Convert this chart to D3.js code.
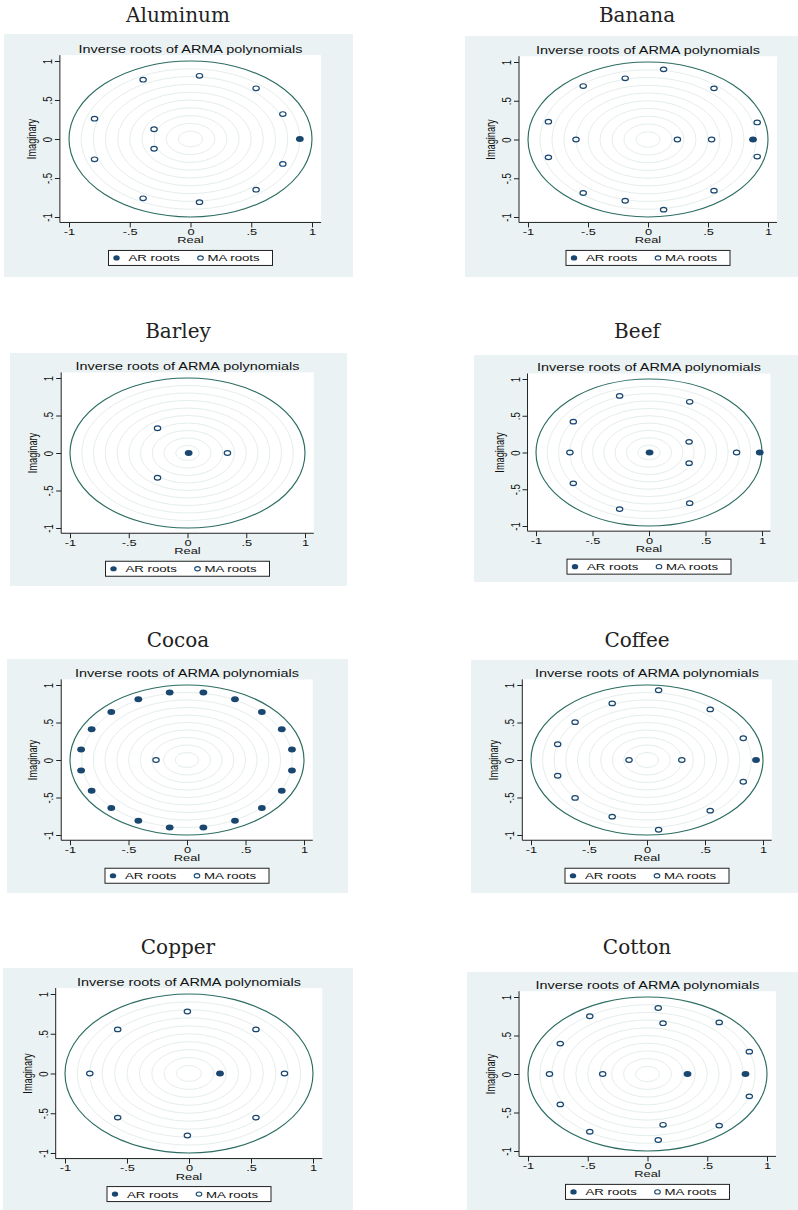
<!DOCTYPE html>
<html>
<head>
<meta charset="utf-8">
<script src="https://cdn.jsdelivr.net/npm/d3@7"></script>
<style>
  body { margin: 0; background: #fff; }
  text { font-family: "Liberation Sans", Arial, sans-serif; fill: #111; }
  .ptitle { font-family: "DejaVu Serif", "Liberation Serif", serif; fill: #222; }
</style>
</head>
<body>
<svg id="chart" width="798" height="1210"></svg>
<script>
// commodity names, one panel each
const commodities = ['Aluminum', 'Banana', 'Barley', 'Beef', 'Cocoa', 'Coffee', 'Copper', 'Cotton'];

// inverse roots, [real, imaginary]
const aluminumAR = [[0.90, 0]];
const aluminumMA = [[0.074, 0.81], [0.074, -0.81], [-0.39, 0.76], [-0.39, -0.76], [0.54, 0.65], [0.54, -0.65],
                    [0.76, 0.32], [0.76, -0.32], [-0.79, 0.26], [-0.79, -0.26], [-0.30, 0.125], [-0.30, -0.125]];

const bananaAR = [[0.875, 0]];
const bananaMA = [[0.13, 0.905], [0.13, -0.905], [-0.19, 0.79], [-0.19, -0.79], [-0.54, 0.69], [-0.54, -0.69],
                  [0.55, 0.66], [0.55, -0.66], [0.91, 0.22], [0.91, -0.22], [-0.83, 0.23], [-0.83, -0.23],
                  [-0.60, 0], [0.245, 0], [0.53, 0]];

const barleyAR = [[0.01, 0]];
const barleyMA = [[-0.255, 0.33], [-0.255, -0.33], [0.34, 0]];

const beefAR = [[0.005, 0], [0.98, 0]];
const beefMA = [[-0.26, 0.77], [-0.26, -0.77], [0.36, 0.69], [0.36, -0.69], [-0.67, 0.42], [-0.67, -0.42],
                [0.355, 0.145], [0.355, -0.145], [-0.70, 0], [0.775, 0]];

const cocoaAR = [[-0.148, 0.90], [-0.148, -0.90], [0.14, 0.90], [0.14, -0.90], [-0.416, 0.81], [-0.416, -0.81],
                 [0.41, 0.81], [0.41, -0.81], [-0.647, 0.64], [-0.647, -0.64], [0.64, 0.64], [0.64, -0.64],
                 [-0.815, 0.41], [-0.815, -0.41], [0.81, 0.41], [0.81, -0.41], [-0.905, 0.14], [-0.905, -0.14],
                 [0.897, 0.14], [0.897, -0.14]];
const cocoaMA = [[-0.265, 0]];

const coffeeAR = [[0.94, 0]];
const coffeeMA = [[0.10, 0.93], [0.10, -0.93], [-0.30, 0.755], [-0.30, -0.755], [0.545, 0.675], [0.545, -0.675],
                  [-0.62, 0.505], [-0.62, -0.505], [0.83, 0.29], [0.83, -0.29], [-0.77, 0.21], [-0.77, -0.21],
                  [-0.155, 0], [0.30, 0]];

const copperAR = [[0.25, 0]];
const copperMA = [[-0.013, 0.78], [-0.013, -0.78], [-0.575, 0.555], [-0.575, -0.555], [0.54, 0.555], [0.54, -0.555],
                  [-0.80, 0], [0.77, 0]];

const cottonAR = [[0.335, 0], [0.82, 0]];
const cottonMA = [[0.09, 0.857], [0.09, -0.857], [-0.483, 0.75], [-0.483, -0.75], [0.13, 0.66], [0.13, -0.66],
                  [0.60, 0.67], [0.60, -0.67], [-0.73, 0.395], [-0.73, -0.395], [0.852, 0.29], [0.852, -0.29],
                  [-0.82, 0], [-0.375, 0]];

const arRoots = [aluminumAR, bananaAR, barleyAR, beefAR, cocoaAR, coffeeAR, copperAR, cottonAR];
const maRoots = [aluminumMA, bananaMA, barleyMA, beefMA, cocoaMA, coffeeMA, copperMA, cottonMA];

// axis ticks and labels (Stata style)
const tickValues = [-1, -0.5, 0, 0.5, 1];
const tickLabels = ['-1', '-.5', '0', '.5', '1'];
const gridRadii = [0.1, 0.2, 0.3, 0.4, 0.5, 0.6, 0.7, 0.8, 0.9];

// panel layout: background box, title spot, pixel positions of -1 / +1 on each axis
const layout = [
  { bg: [4, 34, 353, 277],    tx: 178, ty: 22,  xp: [69, 312],  yp: [61, 217] },
  { bg: [465, 36, 798, 277],  tx: 637, ty: 22,  xp: [528, 768], yp: [62, 217] },
  { bg: [10, 353, 347, 586],  tx: 178, ty: 338, xp: [70, 305],  yp: [378, 528] },
  { bg: [474, 355, 798, 582], tx: 637, ty: 338, xp: [536, 762], yp: [379, 526] },
  { bg: [7, 659, 348, 893],   tx: 178, ty: 647, xp: [70, 304],  yp: [685, 835] },
  { bg: [471, 660, 798, 893], tx: 637, ty: 647, xp: [531, 763], yp: [685, 835] },
  { bg: [3, 968, 353, 1210],  tx: 178, ty: 954, xp: [65, 313],  yp: [994, 1153] },
  { bg: [467, 972, 798, 1210], tx: 637, ty: 954, xp: [528, 767], yp: [997, 1151] }
];

const SX = 1.35;           // graphs were stretched sideways
const navy = '#1a476f';
const bgCol = '#eaf2f3';
const unitCol = '#2c6d62';
const gridCol = '#e5eeec';

const svg = d3.select('#chart');

// stretched sans text
function sText(g, x, y, txt, size, rot) {
  return g.append('text')
    .attr('transform', `translate(${x},${y}) scale(${SX},1)` + (rot ? ' rotate(-90)' : ''))
    .attr('text-anchor', 'middle')
    .style('font-size', size + 'px')
    .text(txt);
}

function drawPanel(i) {
  const L = layout[i];
  const g = svg.append('g');

  // title above the graph
  g.append('text').attr('class', 'ptitle')
    .attr('x', L.tx).attr('y', L.ty)
    .attr('text-anchor', 'middle')
    .style('font-size', '20px')
    .text(commodities[i]);

  // background
  g.append('rect')
    .attr('x', L.bg[0]).attr('y', L.bg[1])
    .attr('width', L.bg[2] - L.bg[0]).attr('height', L.bg[3] - L.bg[1])
    .attr('fill', bgCol);

  const x = d3.scaleLinear([-1, 1], L.xp);
  const y = d3.scaleLinear([-1, 1], [L.yp[1], L.yp[0]]);

  const left = x(-1.075), right = x(1.075);
  const top = y(1.075), bottom = y(-1.07);

  // plot region
  g.append('rect')
    .attr('x', left).attr('y', top)
    .attr('width', right - left).attr('height', bottom - top)
    .attr('fill', '#fff');

  sText(g, (left + right) / 2, y(1) - 8, 'Inverse roots of ARMA polynomials', 10.7);

  const cx = x(0), cy = y(0);
  const rx = r => x(r) - x(0);
  const ry = r => y(0) - y(r);

  // reference circles
  g.append('g').selectAll('ellipse').data(gridRadii).join('ellipse')
    .attr('cx', cx).attr('cy', cy)
    .attr('rx', d => rx(d)).attr('ry', d => ry(d))
    .attr('fill', 'none').attr('stroke', gridCol).attr('stroke-width', 1);

  g.append('ellipse')
    .attr('cx', cx).attr('cy', cy)
    .attr('rx', rx(1)).attr('ry', ry(1))
    .attr('fill', 'none').attr('stroke', unitCol).attr('stroke-width', 1.15);

  // axes
  const xAxis = d3.axisBottom(x).tickValues(tickValues).tickFormat((d, k) => tickLabels[k]).tickSize(5).tickSizeOuter(0);
  const xg = g.append('g').attr('transform', `translate(0,${bottom})`).call(xAxis);
  xg.select('.domain').attr('d', `M${left},0H${right}`);
  xg.selectAll('text').attr('y', 0).attr('dy', 0)
    .attr('transform', `translate(0,12.5) scale(${SX},1)`)
    .style('font-size', '9.5px').style('font-family', '"Liberation Sans", Arial, sans-serif');

  const yAxis = d3.axisLeft(y).tickValues(tickValues).tickFormat((d, k) => tickLabels[k]).tickSize(5).tickSizeOuter(0);
  const yg = g.append('g').attr('transform', `translate(${left},0)`).call(yAxis);
  yg.select('.domain').attr('d', `M0,${top}V${bottom}`);
  yg.selectAll('text').attr('x', 0).attr('dy', 0).attr('text-anchor', 'middle')
    .attr('transform', `translate(-8,0) scale(${SX},1) rotate(-90)`)
    .style('font-size', '9.5px').style('font-family', '"Liberation Sans", Arial, sans-serif');
  g.selectAll('.domain, .tick line').attr('stroke', '#222');

  sText(g, (left + right) / 2, bottom + 21, 'Real', 9.5);
  sText(g, left - 24, cy, 'Imaginary', 9.2, true);

  // roots
  g.append('g').selectAll('ellipse').data(maRoots[i]).join('ellipse')
    .attr('cx', d => x(d[0])).attr('cy', d => y(d[1]))
    .attr('rx', 3.2).attr('ry', 2.3)
    .attr('fill', 'none').attr('stroke', navy).attr('stroke-width', 1.2);

  g.append('g').selectAll('ellipse').data(arRoots[i]).join('ellipse')
    .attr('cx', d => x(d[0])).attr('cy', d => y(d[1]))
    .attr('rx', 3.9).attr('ry', 3)
    .attr('fill', navy);

  // legend
  const lw = 164, lh = 15;
  const lx = (left + right) / 2 - lw / 2, ly = bottom + 28;
  const lg = g.append('g').attr('transform', `translate(${lx},${ly})`);
  lg.append('rect').attr('width', lw).attr('height', lh)
    .attr('fill', '#fff').attr('stroke', '#222').attr('stroke-width', 1);
  lg.append('ellipse').attr('cx', 8).attr('cy', lh / 2).attr('rx', 3.2).attr('ry', 2.6).attr('fill', navy);
  lg.append('text').attr('transform', `translate(20,11) scale(${SX},1)`).style('font-size', '9.8px').text('AR roots');
  lg.append('ellipse').attr('cx', 92).attr('cy', lh / 2).attr('rx', 2.8).attr('ry', 2.1)
    .attr('fill', 'none').attr('stroke', navy).attr('stroke-width', 1.1);
  lg.append('text').attr('transform', `translate(99,11) scale(${SX},1)`).style('font-size', '9.8px').text('MA roots');
}

commodities.forEach((c, i) => drawPanel(i));
</script>
</body>
</html>
